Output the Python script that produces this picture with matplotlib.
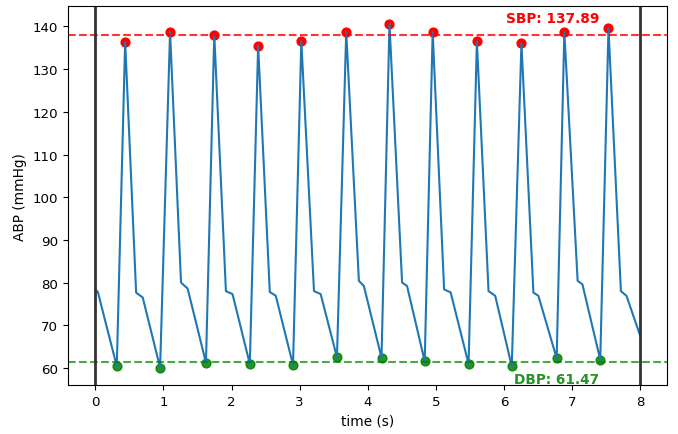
import matplotlib
matplotlib.use("Agg")
import matplotlib.pyplot as plt

# Beat landmarks of the arterial pressure trace (time in s, pressure in mmHg)
trough_t = [0.316, 0.952, 1.625, 2.269, 2.903, 3.548, 4.202, 4.836, 5.480, 6.114, 6.773, 7.413]
trough_v = [60.39, 60.07, 61.23, 60.93, 60.70, 62.49, 62.40, 61.56, 60.93, 60.39, 62.26, 61.93]

peak_t = [0.439, 1.098, 1.747, 2.391, 3.025, 3.684, 4.319, 4.953, 5.602, 6.256, 6.886, 7.534]
peak_v = [136.4, 138.7, 138.1, 135.5, 136.5, 138.7, 140.6, 138.7, 136.5, 136.1, 138.7, 139.6]

notch_t = [0.600, 1.259, 1.918, 2.562, 3.211, 3.870, 4.504, 5.121, 5.773, 6.432, 7.081, 7.716]
notch_v = [77.65, 80.0, 78.0, 77.8, 78.0, 80.4, 80.0, 78.4, 78.0, 77.65, 80.4, 78.0]

shoulder_t = [0.697, 1.356, 2.015, 2.650, 3.309, 3.943, 4.577, 5.217, 5.871, 6.505, 7.151, 7.798]
shoulder_v = [76.5, 78.6, 77.3, 76.9, 77.3, 79.2, 79.2, 77.7, 76.9, 76.9, 79.6, 76.9]

start_t = [0.0, 0.038]
start_v = [78.4, 77.8]
end_t = [8.0]
end_v = [67.5]

sbp = 137.89
dbp = 61.47

# Assemble the waveform in time order
wave_t = list(start_t)
wave_v = list(start_v)
for i in range(len(peak_t)):
    wave_t += [trough_t[i], peak_t[i], notch_t[i], shoulder_t[i]]
    wave_v += [trough_v[i], peak_v[i], notch_v[i], shoulder_v[i]]
wave_t += end_t
wave_v += end_v

plt.rcParams['font.family'] = ['DejaVu Sans']
fig = plt.figure(figsize=(6.78, 4.35), dpi=100)
ax = fig.add_axes([0.1003, 0.1126, 0.8842, 0.8704])

ax.plot(wave_t, wave_v, color='#1f77b4', lw=1.5)
ax.scatter(peak_t, peak_v, color='red', s=40)
ax.scatter(trough_t, trough_v, color='green', s=40, alpha=0.85)

ax.axhline(sbp, color='red', ls='--', lw=1.5, alpha=0.8)
ax.axhline(dbp, color='green', ls='--', lw=1.5, alpha=0.7)
ax.axvline(0, color='#333333', lw=2)
ax.axvline(8, color='#333333', lw=2)

ax.text(7.40, sbp + 2.4, f"SBP: {sbp:.2f}", color='red', fontweight='bold',
        fontsize=9.8, ha='right', va='bottom')
ax.text(7.40, dbp - 2.4, f"DBP: {dbp:.2f}", color='green', fontweight='bold',
        fontsize=9.8, ha='right', va='top', alpha=0.85)

ax.set_xlim(-0.4, 8.4)
ax.set_ylim(56.0, 144.7)
ax.set_xticks(range(0, 9))
ax.set_yticks(range(60, 141, 10))
ax.tick_params(labelsize=9.6)
ax.set_xlabel("time (s)", fontsize=9.8)
ax.set_ylabel("ABP (mmHg)", fontsize=9.8)

fig.savefig("out.png", dpi=100)
